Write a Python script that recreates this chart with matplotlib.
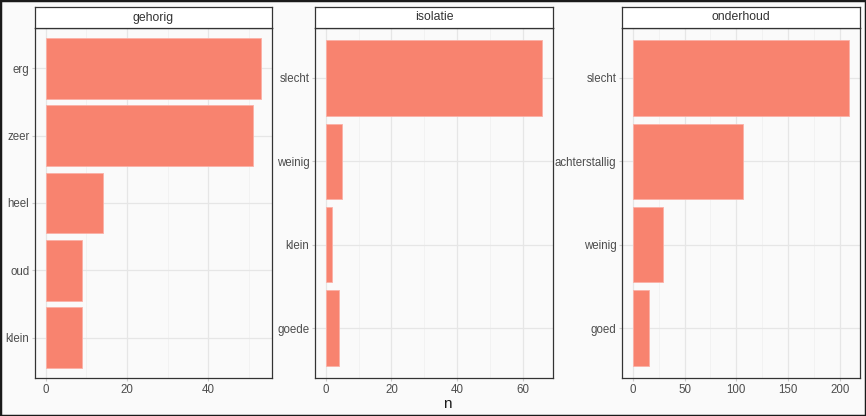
import matplotlib.pyplot as plt
from matplotlib.patches import Rectangle

# data per facet (top to bottom)
facetten = ['gehorig', 'isolatie', 'onderhoud']
gehorig_woorden = ['erg', 'zeer', 'heel', 'oud', 'klein']
gehorig_n = [53, 51, 14, 9, 9]
isolatie_woorden = ['slecht', 'weinig', 'klein', 'goede']
isolatie_n = [66, 5, 2, 4]
onderhoud_woorden = ['slecht', 'achterstallig', 'weinig', 'goed']
onderhoud_n = [209, 106, 29, 16]

woorden = [gehorig_woorden, isolatie_woorden, onderhoud_woorden]
aantallen = [gehorig_n, isolatie_n, onderhoud_n]
major_ticks = [[0, 20, 40], [0, 20, 40, 60], [0, 50, 100, 150, 200]]

W, H = 866, 416
BG = '#fafafa'
BAR = '#f8836f'
plt.rcParams['font.family'] = ['Liberation Sans', 'DejaVu Sans']

fig = plt.figure(figsize=(W / 100, H / 100), dpi=100, facecolor=BG)

# panel positions in pixels: (left, right)
panels = [(35, 272), (315, 553), (622, 860)]
top, strip_top, bottom = 28, 7, 378


def px(l, t, r, b):
    return [l / W, 1 - b / H, (r - l) / W, (b - t) / H]


for i, (l, r) in enumerate(panels):
    ax = fig.add_axes(px(l, top, r, bottom))
    ax.set_facecolor(BG)
    labels = woorden[i]
    vals = aantallen[i]
    k = len(labels)
    ypos = list(range(k, 0, -1))
    ax.barh(ypos, vals, height=0.9, color=BAR, edgecolor='#fbb0a6', linewidth=0.6, zorder=3)
    vmax = max(vals)
    ax.set_xlim(-0.05 * vmax, 1.05 * vmax)
    ax.set_ylim(0.4, k + 0.6)
    mt = major_ticks[i]
    ax.set_xticks(mt)
    step = mt[1] - mt[0]
    minors = [m + step / 2 for m in mt] + [mt[0] - step / 2]
    ax.set_xticks([m for m in minors if -0.05 * vmax < m < 1.05 * vmax], minor=True)
    ax.set_yticks(ypos)
    ax.set_yticklabels(labels)
    ax.grid(True, which='major', color='#e6e6e6', linewidth=0.9, zorder=0)
    ax.grid(True, which='minor', axis='x', color='#efefef', linewidth=0.5, zorder=0)
    ax.tick_params(axis='both', which='major', length=2.5, color='#cccccc', labelsize=8.3,
                   labelcolor='#4d4d4d', pad=1.5)
    ax.tick_params(axis='x', which='minor', length=0)
    for s in ax.spines.values():
        s.set_color('#333333')
        s.set_linewidth(0.9)
    ax.set_axisbelow(True)

    st = fig.add_axes(px(l, strip_top, r, top))
    st.set_facecolor('white')
    st.set_xticks([])
    st.set_yticks([])
    for s in st.spines.values():
        s.set_color('#333333')
        s.set_linewidth(0.9)
    st.text(0.5, 0.5, facetten[i], ha='center', va='center', fontsize=8.8, color='#333333',
            transform=st.transAxes)

fig.text(447 / W, 1 - 404 / H, 'n', ha='center', va='center', fontsize=11, color='#1a1a1a')

# dark frame around the picture
fig.patches.append(Rectangle((0, 0), 1, 1, transform=fig.transFigure, fill=False,
                             edgecolor='#1a1a1a', linewidth=2.5))

plt.savefig('out.png', dpi=100, facecolor=BG)
plt.close()
